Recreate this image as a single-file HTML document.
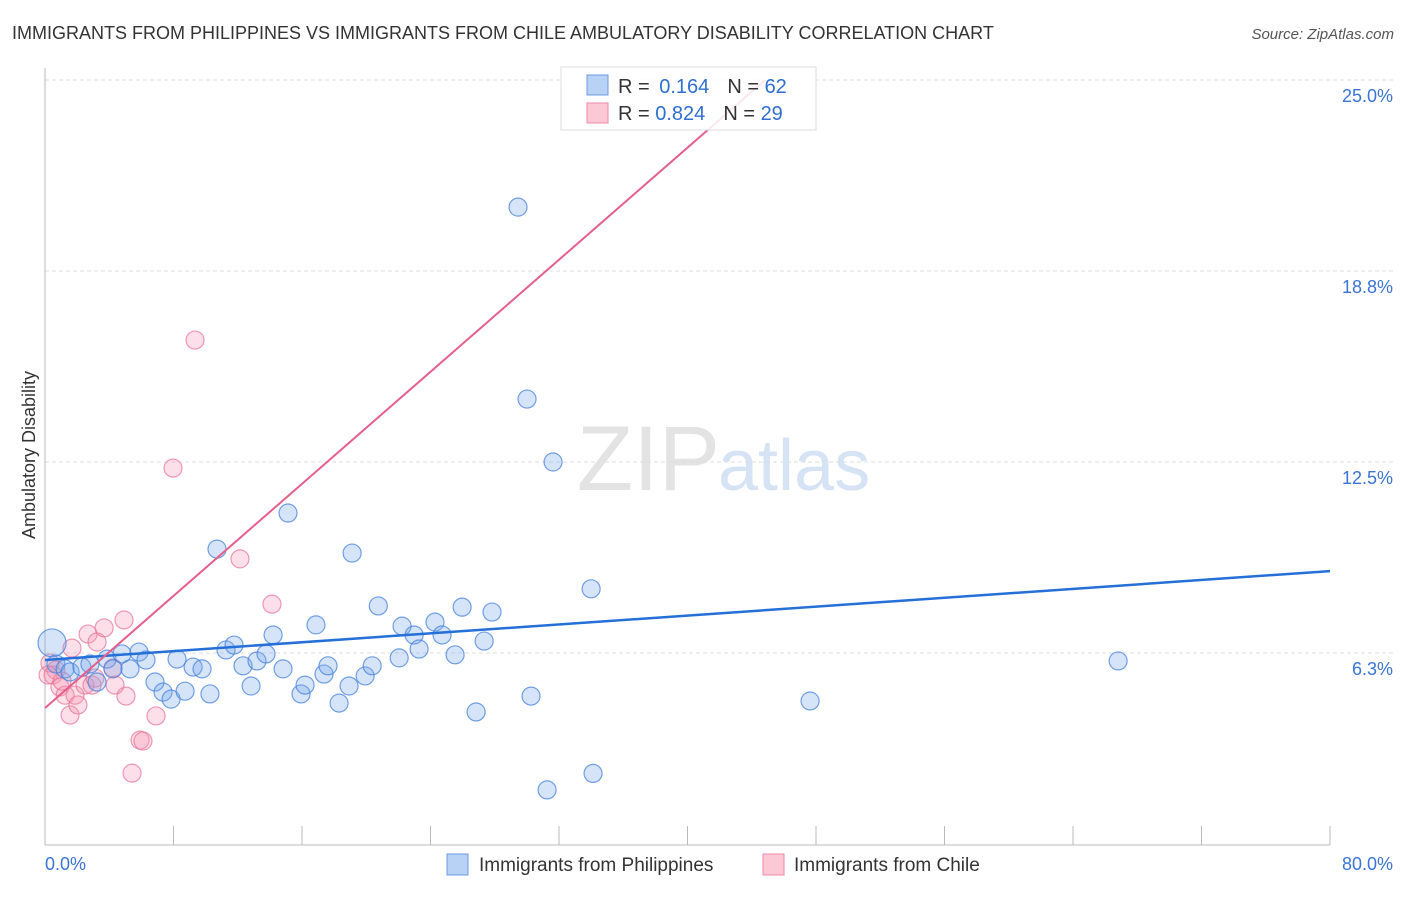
<!DOCTYPE html>
<html><head><meta charset="utf-8"><style>
body{margin:0;background:#fff;font-family:"Liberation Sans",sans-serif;}
svg text{font-family:"Liberation Sans",sans-serif;}
</style></head><body>
<svg width="1406" height="892" viewBox="0 0 1406 892" xmlns="http://www.w3.org/2000/svg">
<text x="12" y="39" font-size="18" fill="#333">IMMIGRANTS FROM PHILIPPINES VS IMMIGRANTS FROM CHILE AMBULATORY DISABILITY CORRELATION CHART</text>
<text x="1394" y="39" font-size="15" fill="#555" font-style="italic" text-anchor="end">Source: ZipAtlas.com</text>
<text x="720" y="490" font-size="92" fill="#e3e3e3" text-anchor="end" font-family="Liberation Serif">ZIP</text>
<text x="718" y="490" font-size="72" fill="#d6e3f5">atlas</text>
<g id="grid"></g>
<g id="axes"></g>
<text transform="translate(35,455) rotate(-90)" font-size="18" fill="#333" text-anchor="middle">Ambulatory Disability</text>
<g id="pts"></g>
<g id="lines"></g>
<g>
<rect x="561" y="67" width="255" height="63" fill="rgba(255,255,255,0.85)" stroke="#ddd"/>
<rect x="587" y="75" width="21" height="20" fill="#b8d2f5" stroke="#6a9be0"/>
<rect x="587" y="103" width="21" height="20" fill="#fcc8d6" stroke="#eb8aa8"/>
<text x="618" y="93" font-size="20" fill="#333">R = <tspan fill="#2f6fd0" dx="4">0.164</tspan><tspan dx="18" fill="#333">N = </tspan><tspan fill="#2f6fd0">62</tspan></text>
<text x="618" y="120" font-size="20" fill="#333">R = <tspan fill="#2f6fd0">0.824</tspan><tspan dx="18" fill="#333">N = </tspan><tspan fill="#2f6fd0">29</tspan></text>
</g>
<g>
<rect x="447" y="854" width="21" height="21" fill="#b8d2f5" stroke="#6a9be0"/>
<text x="479" y="871" font-size="19" fill="#333">Immigrants from Philippines</text>
<rect x="763" y="854" width="21" height="21" fill="#fcc8d6" stroke="#eb8aa8"/>
<text x="794" y="871" font-size="19" fill="#333">Immigrants from Chile</text>
</g>
</svg>
<script>
const yTicks=[6.25,12.5,18.75,25];
const yTickLabels=["6.3%","12.5%","18.8%","25.0%"];
const xTicks=[0,8,16,24,32,40,48,56,64,72,80];
const xEndLabels=["0.0%","80.0%"];
const blueX=[0.44,0.68,1.25,1.56,2.3,2.8,3.24,3.86,4.23,4.79,5.29,5.85,6.29,6.85,7.35,7.85,8.22,8.72,9.22,9.78,10.27,10.71,11.27,11.77,12.33,12.83,13.2,13.76,14.2,14.82,15.13,15.94,16.19,16.87,17.37,17.62,18.31,18.93,19.12,19.93,20.37,20.75,22.05,22.23,22.98,23.29,24.28,24.72,25.53,25.97,26.84,27.34,27.83,29.45,30.01,30.26,31.26,31.63,34.0,34.12,47.63,66.81];
const blueY=[6.58,5.89,5.73,5.63,5.79,5.89,5.3,6.05,5.73,6.22,5.73,6.28,6.02,5.3,4.97,4.74,6.05,5.0,5.79,5.73,4.91,9.65,6.35,6.51,5.83,5.17,5.99,6.22,6.84,5.73,10.83,4.91,5.2,7.17,5.56,5.83,4.61,5.17,9.52,5.5,5.83,7.79,6.09,7.13,6.84,6.38,7.26,6.84,6.19,7.75,4.32,6.64,7.59,20.84,14.56,4.84,1.77,12.5,8.35,2.31,4.68,5.99];
const pinkX=[0.31,0.5,0.68,0.93,1.25,1.56,1.68,1.87,2.05,2.49,2.68,2.93,3.24,3.68,4.23,4.36,4.92,5.04,5.42,5.92,6.1,6.91,7.97,9.34,12.14,14.13,0.19,3.11,1.06];
const pinkY=[5.92,5.53,5.69,5.14,4.87,4.22,6.41,4.87,4.55,5.2,6.87,5.2,6.61,7.07,5.76,5.2,7.33,4.84,2.32,3.4,3.37,4.19,12.3,16.49,9.33,7.85,5.53,5.43,5.33];
const blueSizes=[14];
const trendBlue=[6.02,8.93];
const trendPink=[4.45,0.4584];
const X=v=>45+v*(1285/80), Y=v=>844-v*30.56;
const NS="http://www.w3.org/2000/svg";
function mk(t,a,p){const e=document.createElementNS(NS,t);for(const k in a)e.setAttribute(k,a[k]);p.appendChild(e);return e;}
const grid=document.getElementById('grid'),axes=document.getElementById('axes'),pts=document.getElementById('pts'),lines=document.getElementById('lines');
yTicks.forEach((t,i)=>{
 const l=mk('line',{x1:45,x2:1393,y1:Y(t),y2:Y(t),stroke:'#ddd','stroke-dasharray':'4,3'},grid);
 
 
 const tx=mk('text',{x:1393,y:Y(t)+22,'font-size':18,fill:'#3a74d4','text-anchor':'end'},grid);
 tx.textContent=yTickLabels[i];
 
 
});
const ya=mk('line',{x1:45,x2:45,y1:68,y2:845,stroke:'#bbb'},axes);


const xa=mk('line',{x1:45,x2:1330,y1:845,y2:845,stroke:'#bbb'},axes);


xTicks.forEach(t=>{
 const l=mk('line',{x1:X(t),x2:X(t),y1:826,y2:845,stroke:'#bbb'},axes);
 
 
});
[[0,'start',45],[80,'end',1393]].forEach((d,i)=>{
 const tx=mk('text',{x:d[2],y:870,'font-size':18,fill:'#3a74d4','text-anchor':d[1]},axes);
 tx.textContent=xEndLabels[i];
 
 
});
pinkX.forEach((x,i)=>{
 const c=mk('circle',{cx:X(x),cy:Y(pinkY[i]),r:9,fill:'rgba(244,150,178,0.3)',stroke:'rgba(232,120,155,0.75)','stroke-width':1.2},pts);
 
 
});
blueX.forEach((x,i)=>{
 const c=mk('circle',{cx:X(x),cy:Y(blueY[i]),r:i===0?blueSizes[0]:9,fill:'rgba(120,165,235,0.3)',stroke:'rgba(70,130,220,0.75)','stroke-width':1.2},pts);
 
 
});
const bl=mk('line',{x1:X(0),y1:Y(trendBlue[0]),x2:X(80),y2:Y(trendBlue[1]),stroke:'#2470d8','stroke-width':2.5},lines);


const xe=(25-trendPink[0])/trendPink[1];
const pl=mk('line',{x1:X(0),y1:Y(trendPink[0]),x2:X(xe),y2:Y(25),stroke:'#e45f8a','stroke-width':2},lines);


</script>
</body></html>
